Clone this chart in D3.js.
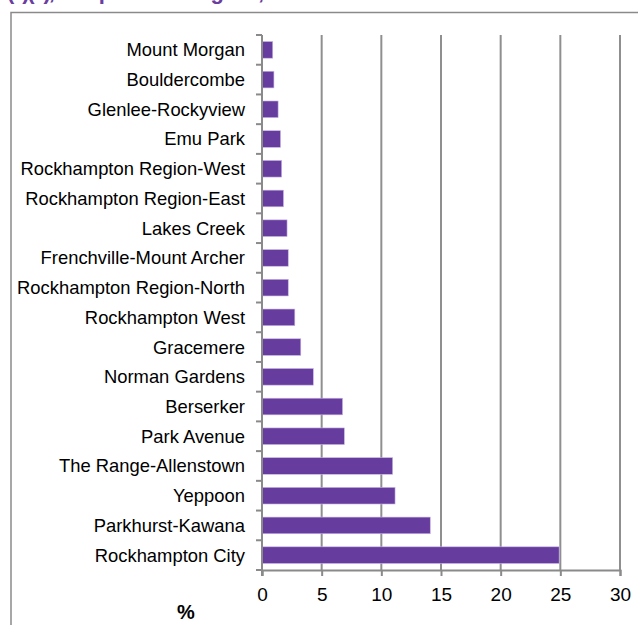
<!DOCTYPE html>
<html>
<head>
<meta charset="utf-8">
<script src="https://cdn.jsdelivr.net/npm/d3@7"></script>
<style>
  body { margin: 0; background: #fff; }
  svg { display: block; font-family: "Liberation Sans", Arial, sans-serif; }
</style>
</head>
<body>
<script>
// categories, top to bottom
var areas = [
    "Mount Morgan", "Bouldercombe", "Glenlee-Rockyview", "Emu Park",
    "Rockhampton Region-West", "Rockhampton Region-East", "Lakes Creek",
    "Frenchville-Mount Archer", "Rockhampton Region-North", "Rockhampton West",
    "Gracemere", "Norman Gardens", "Berserker", "Park Avenue",
    "The Range-Allenstown", "Yeppoon", "Parkhurst-Kawana", "Rockhampton City"
];
var shares = [0.9, 1.0, 1.35, 1.55, 1.65, 1.8, 2.1, 2.2, 2.2, 2.75,
    3.25, 4.3, 6.75, 6.9, 10.95, 11.15, 14.1, 24.9];
var xTicks = [0, 5, 10, 15, 20, 25, 30];

var svgWidth = 638;
var svgHeight = 625;

var margin = { top: 35, right: 18, bottom: 55, left: 262 };
var chartWidth = svgWidth - margin.left - margin.right;
var chartHeight = svgHeight - margin.top - margin.bottom;

var svg = d3.select("body")
    .append("svg")
    .attr("width", svgWidth)
    .attr("height", svgHeight);

// title, mostly cut off above the frame
svg.append("text")
    .attr("x", 7)
    .attr("y", -1.5)
    .attr("fill", "#6a3d9e")
    .attr("font-weight", "bold")
    .attr("font-size", 22)
    .attr("textLength", 300)
    .text("(a)(b), Comparison of Regions, 2011");

// outer frame (runs off right and bottom)
svg.append("path")
    .attr("d", "M11,640 V12.5 H650")
    .attr("fill", "none")
    .attr("stroke", "#8a8a8a")
    .attr("stroke-width", 1.5);

var chartGroup = svg.append("g")
    .attr("transform", `translate(${margin.left}, ${margin.top})`);

var xScale = d3.scaleLinear()
    .domain([0, 30])
    .range([0, chartWidth]);

var yScale = d3.scaleBand()
    .domain(areas)
    .range([0, chartHeight])
    .paddingInner(0.44)
    .paddingOuter(0.22);

// vertical gridlines
chartGroup.selectAll(".grid")
    .data(xTicks.slice(1))
    .enter()
    .append("line")
    .attr("x1", d => xScale(d))
    .attr("x2", d => xScale(d))
    .attr("y1", 0)
    .attr("y2", chartHeight)
    .attr("stroke", "#8f8f8f")
    .attr("stroke-width", 2);

// bars
chartGroup.selectAll(".bar")
    .data(areas)
    .enter()
    .append("rect")
    .attr("x", 0)
    .attr("y", d => yScale(d))
    .attr("width", (d, i) => xScale(shares[i]))
    .attr("height", yScale.bandwidth())
    .attr("fill", "#673c9f")
    .attr("stroke", "#c9b6e4")
    .attr("stroke-width", 0.6);

// x axis
var bottomAxis = d3.axisBottom(xScale)
    .tickValues(xTicks)
    .tickSize(6)
    .tickPadding(12);

var xAxisG = chartGroup.append("g")
    .attr("transform", "translate(0, " + chartHeight + ")")
    .call(bottomAxis);
xAxisG.select(".domain").attr("stroke", "#8a8a8a").attr("stroke-width", 2);
xAxisG.selectAll(".tick line").attr("stroke", "#8a8a8a").attr("stroke-width", 2);
xAxisG.selectAll(".tick text")
    .attr("font-size", 19)
    .attr("font-family", "Liberation Sans, Arial, sans-serif")
    .attr("fill", "#000");

// y axis: line with ticks between categories
chartGroup.append("line")
    .attr("x1", 0).attr("x2", 0)
    .attr("y1", 0).attr("y2", chartHeight + 6)
    .attr("stroke", "#8a8a8a")
    .attr("stroke-width", 2);

var step = yScale.step();
var bounds = d3.range(areas.length + 1).map(i => i * step);
chartGroup.selectAll(".ytick")
    .data(bounds)
    .enter()
    .append("line")
    .attr("x1", -6).attr("x2", 0)
    .attr("y1", d => d).attr("y2", d => d)
    .attr("stroke", "#8a8a8a")
    .attr("stroke-width", 2);

chartGroup.selectAll(".ylabel")
    .data(areas)
    .enter()
    .append("text")
    .attr("x", -17)
    .attr("y", d => yScale(d) + yScale.bandwidth() / 2)
    .attr("dy", "0.35em")
    .attr("text-anchor", "end")
    .attr("font-size", 18.4)
    .attr("fill", "#000")
    .text(d => d);

// unit label
svg.append("text")
    .attr("x", 186)
    .attr("y", 619)
    .attr("text-anchor", "middle")
    .attr("font-weight", "bold")
    .attr("font-size", 20)
    .text("%");
</script>
</body>
</html>
